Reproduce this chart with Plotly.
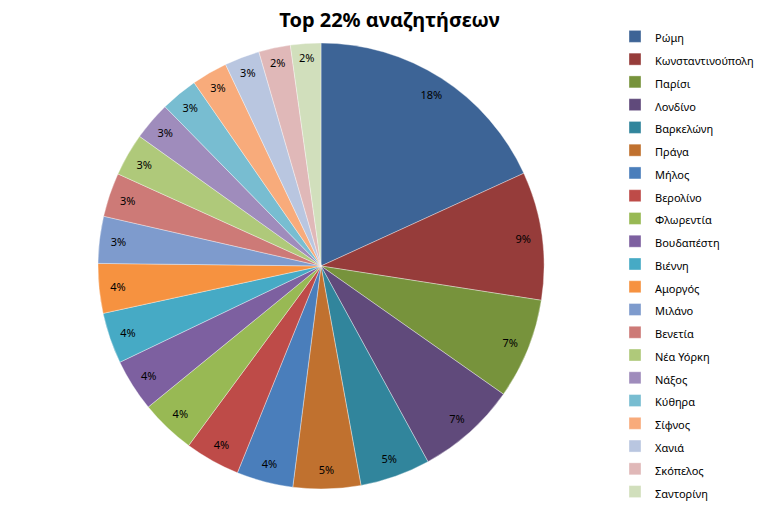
import plotly.graph_objects as go

labels = ["Ρώμη", "Κωνσταντινούπολη", "Παρίσι", "Λονδίνο", "Βαρκελώνη", "Πράγα",
          "Μήλος", "Βερολίνο", "Φλωρεντία", "Βουδαπέστη", "Βιέννη", "Αμοργός",
          "Μιλάνο", "Βενετία", "Νέα Υόρκη", "Νάξος", "Κύθηρα", "Σίφνος",
          "Χανιά", "Σκόπελος", "Σαντορίνη"]
values = [18.2, 9.3, 7.3, 7.3, 5.1, 4.9,
          4.1, 4.0, 4.0, 3.8, 3.7, 3.6,
          3.4, 3.2, 3.1, 2.8, 2.7, 2.6,
          2.55, 2.3, 2.2]
colors = ["#3D6496", "#963C3A", "#77933C", "#604A7B", "#31859C", "#C0712F",
          "#4A7EBB", "#BE4B48", "#98B954", "#7D60A0", "#46AAC5", "#F69240",
          "#7E9BCD", "#CD7A77", "#AFC97A", "#9F8CBC", "#78BDD1", "#F8AB7B",
          "#B9C6E0", "#E0B8B8", "#D1DFBC"]
title_text = "Top 22% αναζητήσεων"

W, H = 779, 523
cx, cy, r = 321, 266, 223
dom = dict(x=[(cx - r) / W, (cx + r) / W], y=[(H - cy - r) / H, (H - cy + r) / H])

legend_labels = ['<span style="font-size:11px">%s</span>' % l for l in labels]

fig = go.Figure()
# coloured slices
fig.add_trace(go.Pie(
    labels=legend_labels,
    values=values,
    sort=False,
    direction="clockwise",
    rotation=0,
    marker=dict(colors=colors, line=dict(color="rgba(255,255,255,0.6)", width=0.6)),
    textinfo="none",
    hoverinfo="label+percent",
    domain=dom,
))
# percentage labels placed near the rim (transparent ring on top)
fig.add_trace(go.Pie(
    labels=legend_labels,
    values=values,
    sort=False,
    direction="clockwise",
    rotation=0,
    hole=0.83,
    showlegend=False,
    marker=dict(colors=["rgba(0,0,0,0)"] * len(values), line=dict(width=0)),
    texttemplate="%{percent:.0%}",
    textposition="inside",
    insidetextorientation="horizontal",
    textfont=dict(family="Noto Sans", size=11, color="black"),
    hoverinfo="skip",
    domain=dom,
))

fig.update_layout(
    width=W, height=H,
    margin=dict(l=0, r=0, t=0, b=0),
    paper_bgcolor="white",
    font=dict(family="Noto Sans", color="black"),
    uniformtext=dict(mode="show", minsize=11),
    title=dict(text="<b>%s</b>" % title_text, x=0.5, xanchor="center",
               y=1 - 20 / H, yanchor="middle", yref="container",
               font=dict(family="Noto Sans", size=20, color="black")),
    legend=dict(x=615 / W, xanchor="left", y=1 - 20 / H, yanchor="top",
                font=dict(family="Noto Sans", size=15.2, color="black"),
                traceorder="normal"),
)

fig.write_html("out.html")
